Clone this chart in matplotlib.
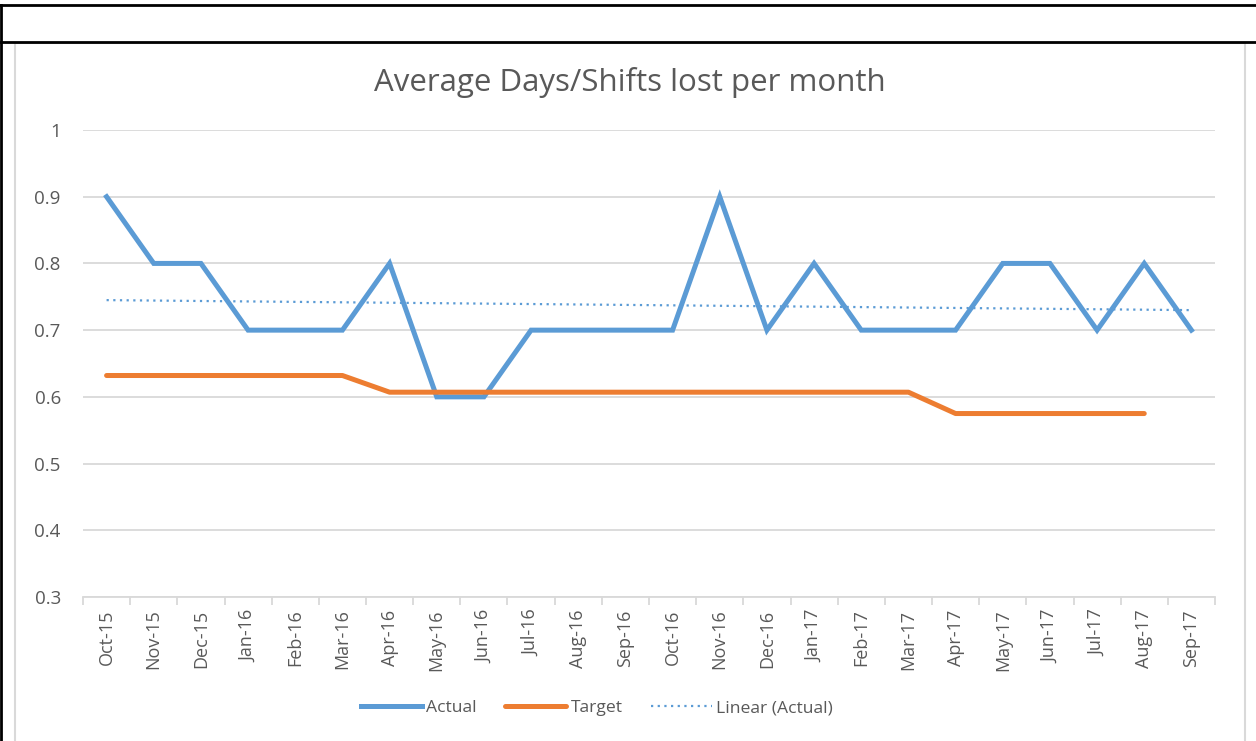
import numpy as np
import matplotlib
matplotlib.use("Agg")
import matplotlib.pyplot as plt
from matplotlib.lines import Line2D
from matplotlib.patches import Rectangle

plt.rcParams['font.family'] = ['Open Sans', 'DejaVu Sans']

months = ['Oct-15', 'Nov-15', 'Dec-15', 'Jan-16', 'Feb-16', 'Mar-16', 'Apr-16',
          'May-16', 'Jun-16', 'Jul-16', 'Aug-16', 'Sep-16', 'Oct-16', 'Nov-16',
          'Dec-16', 'Jan-17', 'Feb-17', 'Mar-17', 'Apr-17', 'May-17', 'Jun-17',
          'Jul-17', 'Aug-17', 'Sep-17']
actual = [0.9, 0.8, 0.8, 0.7, 0.7, 0.7, 0.8, 0.6, 0.6, 0.7, 0.7, 0.7,
          0.7, 0.9, 0.7, 0.8, 0.7, 0.7, 0.7, 0.8, 0.8, 0.7, 0.8, 0.7]
target = [0.632, 0.632, 0.632, 0.632, 0.632, 0.632, 0.607, 0.607, 0.607,
          0.607, 0.607, 0.607, 0.607, 0.607, 0.607, 0.607, 0.607, 0.607,
          0.575, 0.575, 0.575, 0.575, 0.575, np.nan]
yticks = [0.3, 0.4, 0.5, 0.6, 0.7, 0.8, 0.9, 1]
ytick_labels = ['0.3', '0.4', '0.5', '0.6', '0.7', '0.8', '0.9', '1']

blue = '#5b9bd5'
orange = '#ed7d31'
grey_txt = '#595959'
grid_col = '#d9d9d9'

W, H = 1256, 741
fig = plt.figure(figsize=(W / 100, H / 100), dpi=100)

# page / table borders around the chart
fig.add_artist(Rectangle((15 / W, -0.01), 1230 / W, (H - 43) / H + 0.01,
                         transform=fig.transFigure, facecolor='white',
                         edgecolor=grid_col, linewidth=1.5, zorder=-2))
fig.add_artist(Line2D([0, 1], [1 - 5 / H] * 2, transform=fig.transFigure,
                      color='black', linewidth=2))
fig.add_artist(Line2D([0, 1], [1 - 42 / H] * 2, transform=fig.transFigure,
                      color='black', linewidth=2))
fig.add_artist(Line2D([1 / W] * 2, [0, 1 - 5 / H], transform=fig.transFigure,
                      color='black', linewidth=2))

ax = fig.add_axes([83 / W, (H - 597) / H, 1132 / W, 467 / H])
ax.set_facecolor('none')

x = np.arange(len(months))
slope, intercept = np.polyfit(x, actual, 1)
trend = slope * x + intercept

ax.plot(x, actual, color=blue, linewidth=3.6, solid_joinstyle='miter',
        label='Actual', zorder=3)
ax.plot(x, target, color=orange, linewidth=3.6, solid_capstyle='round',
        label='Target', zorder=3)
ax.plot(x, trend, color=blue, linewidth=1.6, linestyle=(0, (1, 2)),
        label='Linear (Actual)', zorder=2)

ax.set_xlim(-0.5, len(months) - 0.5)
ax.set_ylim(0.3, 1.0)
ax.set_yticks(yticks)
ax.set_yticklabels(ytick_labels)
ax.yaxis.grid(True, color=grid_col, linewidth=1.3)
ax.set_axisbelow(True)
ax.tick_params(axis='y', length=0, pad=16, labelsize=13.5, labelcolor=grey_txt)

ax.set_xticks(x)
ax.set_xticklabels(months, rotation=90)
ax.set_xticks(np.arange(-0.5, len(months)), minor=True)
ax.tick_params(axis='x', which='major', length=0, pad=9, labelsize=13,
               labelcolor=grey_txt)
ax.tick_params(axis='x', which='minor', length=6, width=1.3, color=grid_col)

for s in ['top', 'right', 'left']:
    ax.spines[s].set_visible(False)
ax.spines['bottom'].set_color(grid_col)
ax.spines['bottom'].set_linewidth(1.3)

fig.text(630 / W, 1 - 83 / H, 'Average Days/Shifts lost per month',
         ha='center', va='center', fontsize=22.5, color=grey_txt)

fig.legend(loc='center', bbox_to_anchor=(597 / W, 1 - 708 / H), ncol=3,
           frameon=False, fontsize=12.6, labelcolor=grey_txt, handlelength=3.5,
           handletextpad=0.25, columnspacing=1.6)

fig.savefig('out.png', dpi=100)
